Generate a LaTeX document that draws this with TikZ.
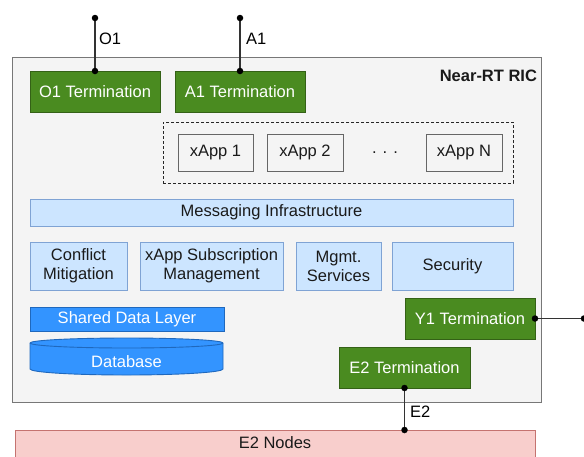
\documentclass[tikz,border=0pt]{standalone}
\usepackage{fontspec}
\setmainfont{Liberation Sans}
\begin{document}
\begin{tikzpicture}[x=1pt,y=-1pt,
  every node/.style={font=\fontsize{16.5}{19}\selectfont, inner sep=0pt, outer sep=0pt},
  term/.style={draw=#1!70!black, fill=#1, text=white, minimum height=41pt},
  term/.default=termgreen,
  lightbox/.style={draw=lbstroke, fill=lbfill, text=txt, align=center, line width=0.9pt},
  appbox/.style={draw=gray!80!black, fill=ricfill, text=txt, minimum width=76pt, minimum height=37pt},
  conn/.style={draw=linecol, line width=1.3pt},
  dotc/.style={circle, fill=black, minimum size=6.5pt, inner sep=0pt},
  lbl/.style={text=black, anchor=west}
]
\definecolor{termgreen}{HTML}{4A8B20}
\definecolor{lbfill}{HTML}{CCE5FF}
\definecolor{lbstroke}{HTML}{7FA3D4}
\definecolor{sdlfill}{HTML}{3394FF}
\definecolor{sdlstroke}{HTML}{1F68BD}
\definecolor{ricfill}{HTML}{F4F4F4}
\definecolor{ricstroke}{HTML}{777777}
\definecolor{txt}{HTML}{1A1A1A}
\definecolor{linecol}{HTML}{333333}
\definecolor{e2fill}{HTML}{F8CECC}
\definecolor{e2stroke}{HTML}{C57370}
\useasboundingbox (0,0) rectangle (584,456);

% E2 Nodes
\node[draw=e2stroke, fill=e2fill, line width=0.9pt, minimum width=520pt, minimum height=44pt, text=txt, anchor=north, text depth=0pt] (e2n) at (275,430) {};
\node[text=txt] (e2ntext) at (275,443) {E2 Nodes};

% RIC container
\node[draw=ricstroke, fill=ricfill, line width=1pt, minimum width=529pt, minimum height=345pt] (ric) at (276.5,229.5) {};
\node[anchor=east, font=\bfseries\fontsize{16.5}{19}\selectfont, text=txt] (rictitle) at (537,76) {Near-RT RIC};

% terminations
\node[term, minimum width=130pt] (o1t) at (95,91.5) {O1 Termination};
\node[term, minimum width=130pt] (a1t) at (240,91.5) {A1 Termination};
\node[term, minimum width=130pt] (y1t) at (470,318.5) {Y1 Termination};
\node[term, minimum width=131pt] (e2t) at (404.5,367.5) {E2 Termination};

% xApps
\node[draw=black!85, dashed, line width=1pt, dash pattern=on 3pt off 2pt, minimum width=350pt, minimum height=61pt] (xapps) at (338,152.5) {};
\node[appbox, minimum width=75pt] (x1) at (215.5,152.5) {xApp 1};
\node[appbox] (x2) at (305,152.5) {xApp 2};
\node[text=txt] (xdots) at (385,152.5) {. . .};
\node[appbox] (xn) at (464,152.5) {xApp N};

% platform services
\node[lightbox, minimum width=483pt, minimum height=27pt] (msg) at (271.5,212.5) {Messaging Infrastructure};
\node[lightbox, minimum width=97pt, minimum height=48pt] (conf) at (78.5,266) {Conflict\\Mitigation};
\node[lightbox, minimum width=143pt, minimum height=48pt] (sub) at (211.5,266) {xApp Subscription\\Management};
\node[lightbox, minimum width=85pt, minimum height=48pt] (mgmt) at (338.5,266) {Mgmt.\\Services};
\node[lightbox, minimum width=121pt, minimum height=48pt] (sec) at (452.5,266) {Security};

\node[draw=sdlstroke, fill=sdlfill, line width=0.9pt, text=white, minimum width=194pt, minimum height=24pt] (sdl) at (127,319) {Shared Data Layer};

% database cylinder
\filldraw[draw=sdlstroke, fill=sdlfill, line width=0.9pt]
  (30,343) -- (30,369) arc[start angle=180, end angle=360, x radius=96.5pt, y radius=6pt]
  -- (223,343) arc[start angle=0, end angle=180, x radius=96.5pt, y radius=5pt] -- cycle;
\draw[draw=sdlstroke, line width=0.9pt] (30,343) arc[start angle=180, end angle=360, x radius=96.5pt, y radius=5pt];
\node[text=white] (db) at (126.5,362) {Database};

% connectors
\coordinate (o1top) at (95,18);
\coordinate (a1top) at (240,18);
\coordinate (y1end) at (584,318.5);
\draw[conn] (o1top) -- (o1t.north);
\draw[conn] (a1top) -- (a1t.north);
\draw[conn] (y1t.east) -- (y1end);
\draw[conn] (e2t.south) -- (e2n.north -| e2t.south);
\node[dotc] (d1) at (o1top) {};
\node[dotc] (d2) at (o1t.north) {};
\node[dotc] (d3) at (a1top) {};
\node[dotc] (d4) at (a1t.north) {};
\node[dotc] (d5) at (y1t.east) {};
\node[dotc] (d6) at (y1end) {};
\node[dotc] (d7) at (e2t.south) {};
\node[dotc] (d8) at (e2n.north -| e2t.south) {};

\node[lbl] (lo1) at (99,39) {O1};
\node[lbl] (la1) at (246,39) {A1};
\node[lbl] (le2) at (410,412) {E2};
\end{tikzpicture}
\end{document}
